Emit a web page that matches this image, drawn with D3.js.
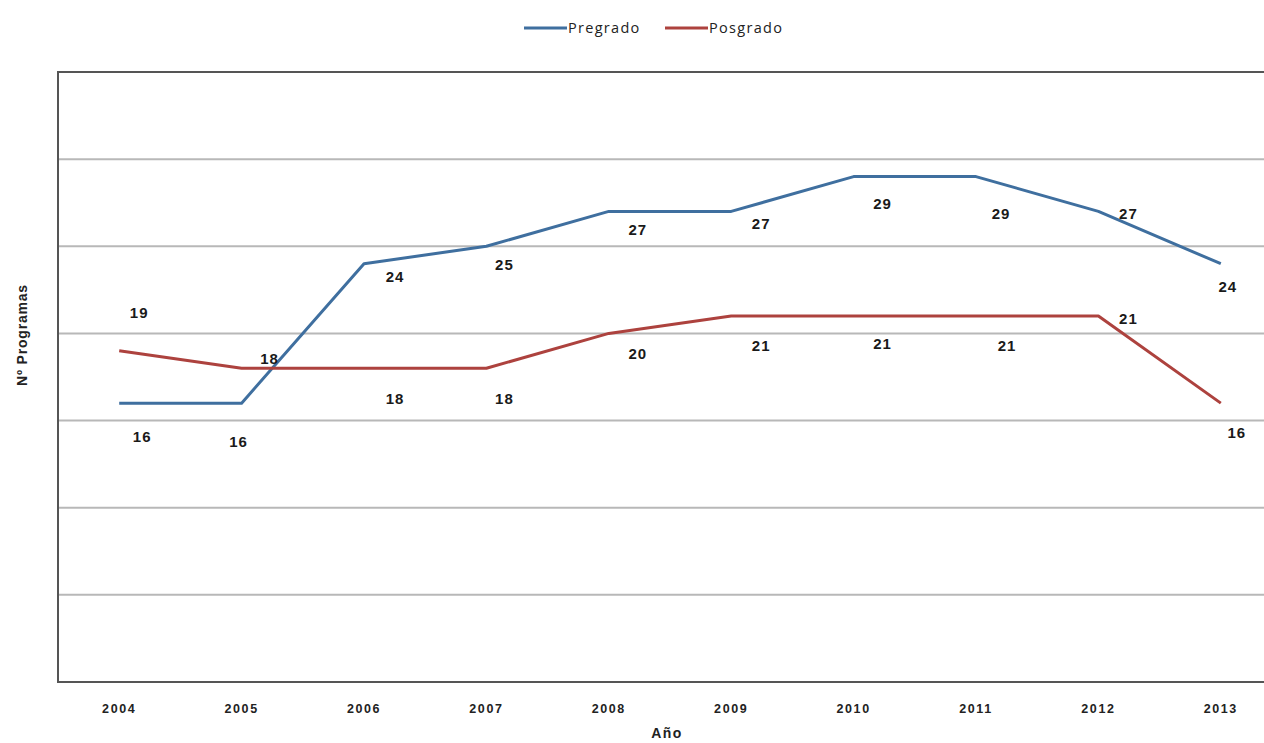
<!DOCTYPE html>
<html>
<head>
<meta charset="utf-8">
<script src="https://cdn.jsdelivr.net/npm/d3@7"></script>
<style>
  html, body { margin: 0; padding: 0; background: #fff; }
  svg { display: block; }
</style>
</head>
<body>
<svg id="chart" width="1264" height="743"></svg>
<script>
// Programas académicos por año
const years = ["2004", "2005", "2006", "2007", "2008", "2009", "2010", "2011", "2012", "2013"];
const pregrado = [16, 16, 24, 25, 27, 27, 29, 29, 27, 24];
const posgrado = [19, 18, 18, 18, 20, 21, 21, 21, 21, 16];
const yTicks = [0, 5, 10, 15, 20, 25, 30, 35];

// per-point label nudges (px) relative to each data point
const pregradoNudge = [[23, 34], [-3, 39], [31, 13], [18, 18], [29, 18], [30, 12], [29, 27], [25, 37], [30, 2], [7, 23]];
const posgradoNudge = [[20, -38], [28, -10], [31, 30], [18, 30], [29, 20], [30, 30], [29, 28], [31, 30], [30, 3], [16, 30]];

const svg = d3.select("#chart");
const plotLeft = 58, plotTop = 72, plotBottom = 682;
const band = 122.4;
const plotRight = plotLeft + band * years.length;
const labelFont = "Liberation Sans, Arial, sans-serif";

const x = d3.scaleBand().domain(years).range([plotLeft, plotRight]).padding(0);
const y = d3.scaleLinear().domain([0, 35]).range([plotBottom, plotTop]);
const cx = d => x(d) + x.bandwidth() / 2;

// gridlines
svg.append("g")
  .selectAll("line")
  .data(yTicks.filter(t => t > 0 && t < 35))
  .join("line")
  .attr("x1", plotLeft).attr("x2", plotRight)
  .attr("y1", d => y(d)).attr("y2", d => y(d))
  .attr("stroke", "#b8b8b8").attr("stroke-width", 2);

// plot frame
svg.append("rect")
  .attr("x", plotLeft).attr("y", plotTop)
  .attr("width", plotRight - plotLeft).attr("height", plotBottom - plotTop)
  .attr("fill", "none").attr("stroke", "#555").attr("stroke-width", 2);

// x axis labels
const xAxis = d3.axisBottom(x).tickSize(0).tickPadding(0);
const gx = svg.append("g").attr("transform", `translate(0,${plotBottom})`).call(xAxis);
gx.select(".domain").remove();
gx.selectAll("text")
  .attr("y", 27)
  .attr("dy", "0.32em")
  .attr("font-family", labelFont)
  .attr("font-size", 12.5).attr("font-weight", "bold").attr("fill", "#222")
  .attr("letter-spacing", 1.6);

svg.append("text")
  .attr("x", 667).attr("y", 738)
  .attr("text-anchor", "middle")
  .attr("font-family", labelFont)
  .attr("font-size", 14).attr("font-weight", "bold").attr("fill", "#222")
  .attr("letter-spacing", 1.5)
  .text("Año");

svg.append("text")
  .attr("transform", "translate(27,335) rotate(-90)")
  .attr("text-anchor", "middle")
  .attr("font-family", labelFont)
  .attr("font-size", 14).attr("font-weight", "bold").attr("fill", "#222")
  .attr("letter-spacing", 0.8)
  .text("Nº Programas");

const series = [
  { name: "Pregrado", values: pregrado, nudge: pregradoNudge, color: "#3f6f9f" },
  { name: "Posgrado", values: posgrado, nudge: posgradoNudge, color: "#ad423e" }
];

const line = d3.line().x(d => cx(d.year)).y(d => y(d.v));

series.forEach(s => {
  const pts = years.map((yr, i) => ({ year: yr, v: s.values[i], n: s.nudge[i] }));
  svg.append("path")
    .datum(pts)
    .attr("d", line)
    .attr("fill", "none")
    .attr("stroke", s.color)
    .attr("stroke-width", 3)
    .attr("stroke-linejoin", "round");

  svg.append("g")
    .selectAll("text")
    .data(pts)
    .join("text")
    .attr("x", d => cx(d.year) + d.n[0])
    .attr("y", d => y(d.v) + d.n[1])
    .attr("dy", "0.35em")
    .attr("text-anchor", "middle")
    .attr("font-family", labelFont)
    .attr("font-size", 15).attr("font-weight", "bold").attr("fill", "#1a1a1a")
    .attr("letter-spacing", 1)
    .text(d => d.v);
});

// legend
const legend = svg.append("g").attr("transform", "translate(524,28)");
const legendItems = [{ name: "Pregrado", color: "#3f6f9f", dx: 0 }, { name: "Posgrado", color: "#ad423e", dx: 141 }];
legendItems.forEach(it => {
  const g = legend.append("g").attr("transform", `translate(${it.dx},0)`);
  g.append("line").attr("x1", 0).attr("x2", 43).attr("y1", 0).attr("y2", 0)
    .attr("stroke", it.color).attr("stroke-width", 3);
  g.append("text").attr("x", 44).attr("y", 0).attr("dy", "0.35em")
    .attr("font-family", "Open Sans, Liberation Sans, sans-serif")
    .attr("font-size", 14.5).attr("fill", "#222")
    .attr("letter-spacing", 1.3)
    .text(it.name);
});
</script>
</body>
</html>
